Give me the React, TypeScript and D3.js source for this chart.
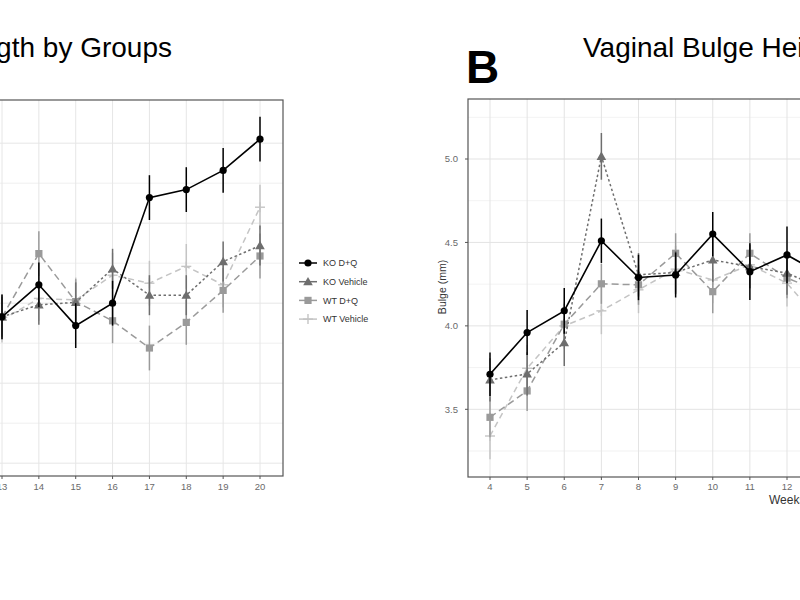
import React from "react";
import * as d3 from "d3";

// ---------- Panel A (length by groups) ----------
const weeksA = [13, 14, 15, 16, 17, 18, 19, 20];
const koDQ_A = [2.83, 3.23, 2.72, 3.0, 4.32, 4.42, 4.66, 5.05];
const koDQ_A_se = [0.28, 0.28, 0.28, 0.28, 0.28, 0.28, 0.28, 0.28];
const koVeh_A = [2.83, 2.98, 3.01, 3.43, 3.1, 3.1, 3.52, 3.72];
const koVeh_A_se = [0.25, 0.25, 0.25, 0.25, 0.25, 0.25, 0.25, 0.25];
const wtDQ_A = [2.83, 3.62, 3.02, 2.78, 2.44, 2.76, 3.16, 3.59];
const wtDQ_A_se = [0.28, 0.28, 0.28, 0.28, 0.28, 0.28, 0.28, 0.28];
const wtVeh_A = [2.79, 3.06, 3.04, 3.35, 3.25, 3.46, 3.23, 4.2];
const wtVeh_A_se = [0.28, 0.28, 0.28, 0.28, 0.28, 0.28, 0.28, 0.28];
const gridA = [1.0, 1.5, 2.0, 2.5, 3.0, 3.5, 4.0, 4.5, 5.0];

// ---------- Panel B (height by groups) ----------
const weeksB = [4, 5, 6, 7, 8, 9, 10, 11, 12, 13];
const koDQ_B = [3.71, 3.96, 4.09, 4.51, 4.29, 4.305, 4.55, 4.325, 4.425, 4.3];
const koDQ_B_se = [0.13, 0.135, 0.137, 0.133, 0.136, 0.135, 0.133, 0.17, 0.17, 0.15];
const koVeh_B = [3.676, 3.712, 3.9, 5.016, 4.306, 4.32, 4.395, 4.355, 4.316, 4.22];
const koVeh_B_se = [0.13, 0.13, 0.14, 0.14, 0.13, 0.13, 0.13, 0.13, 0.13, 0.13];
const wtDQ_B = [3.452, 3.61, 4.01, 4.252, 4.246, 4.435, 4.205, 4.435, 4.286, 4.2];
const wtDQ_B_se = [0.12, 0.12, 0.12, 0.12, 0.12, 0.12, 0.13, 0.12, 0.12, 0.12];
const wtVeh_B = [3.34, 3.746, 4.0, 4.09, 4.216, 4.34, 4.275, 4.366, 4.256, 4.0];
const wtVeh_B_se = [0.14, 0.14, 0.14, 0.14, 0.14, 0.14, 0.14, 0.14, 0.14, 0.14];
const ticksB = [3.5, 4.0, 4.5, 5.0];
const minorB = [3.25, 3.75, 4.25, 4.75, 5.25];

const seriesNames = ["KO D+Q", "KO Vehicle", "WT D+Q", "WT Vehicle"];
const seriesColors = ["#000000", "#6e6e6e", "#9a9a9a", "#c4c4c4"];
const seriesDash = ["none", "2.5,2.5", "7,4", "6,4"];
const seriesShape = ["circle", "triangle", "square", "plus"];

const FONT = "'Liberation Sans', Arial, Helvetica, sans-serif";

type Ser = { vals: number[]; se: number[] };

function Marker({ shape, x, y, color }: { shape: string; x: number; y: number; color: string }) {
  if (shape === "circle") return <circle cx={x} cy={y} r={3.6} fill={color} />;
  if (shape === "triangle") {
    const s = 4.8;
    return <path d={`M${x},${y - s}L${x + s},${y + s * 0.75}L${x - s},${y + s * 0.75}Z`} fill={color} />;
  }
  if (shape === "square") return <rect x={x - 3.6} y={y - 3.6} width={7.2} height={7.2} fill={color} />;
  return (
    <g stroke={color} strokeWidth={1.4}>
      <line x1={x - 5} x2={x + 5} y1={y} y2={y} />
      <line x1={x} x2={x} y1={y - 5} y2={y + 5} />
    </g>
  );
}

function SeriesLayer({
  weeks, data, x, y, order,
}: { weeks: number[]; data: Ser[]; x: d3.ScaleLinear<number, number>; y: d3.ScaleLinear<number, number>; order: number[] }) {
  return (
    <g>
      {order.map((i) => {
        const s = data[i];
        const line = d3.line<number>().x((_, k) => x(weeks[k])).y((v) => y(v));
        return (
          <g key={i}>
            {s.vals.map((v, k) => (
              <line key={"e" + k} x1={x(weeks[k])} x2={x(weeks[k])} y1={y(v - s.se[k])} y2={y(v + s.se[k])}
                stroke={seriesColors[i]} strokeWidth={1.5} />
            ))}
            <path d={line(s.vals) || ""} fill="none" stroke={seriesColors[i]} strokeWidth={i === 0 ? 1.6 : 1.5}
              strokeDasharray={seriesDash[i]} />
            {s.vals.map((v, k) => (
              <Marker key={"m" + k} shape={seriesShape[i]} x={x(weeks[k])} y={y(v)} color={seriesColors[i]} />
            ))}
          </g>
        );
      })}
    </g>
  );
}

export default function App() {
  // Panel A geometry
  const aLeft = -60, aRight = 283, aTop = 100, aBottom = 476;
  const xA = d3.scaleLinear().domain([13, 20]).range([2, 260]);
  const yA = d3.scaleLinear().domain([0.84, 5.54]).range([aBottom, aTop]);
  const dataA: Ser[] = [
    { vals: koDQ_A, se: koDQ_A_se },
    { vals: koVeh_A, se: koVeh_A_se },
    { vals: wtDQ_A, se: wtDQ_A_se },
    { vals: wtVeh_A, se: wtVeh_A_se },
  ];

  // Panel B geometry
  const bLeft = 468, bRight = 1100, bTop = 99, bBottom = 477;
  const xB = d3.scaleLinear().domain([4, 12]).range([490, 787]);
  const yB = d3.scaleLinear().domain([3.5, 5.0]).range([409.3, 159]);
  const dataB: Ser[] = [
    { vals: koDQ_B, se: koDQ_B_se },
    { vals: koVeh_B, se: koVeh_B_se },
    { vals: wtDQ_B, se: wtDQ_B_se },
    { vals: wtVeh_B, se: wtVeh_B_se },
  ];
  const order = [3, 2, 1, 0];
  const weeksBTicks = weeksB.filter((w) => w <= 13);

  return (
    <div style={{ position: "absolute", left: 0, top: 0, width: 800, height: 600, background: "#fff" }}>
      <svg width={800} height={600} style={{ display: "block" }} fontFamily={FONT}>
        <rect x={0} y={0} width={800} height={600} fill="#ffffff" />

        {/* ---------- Panel A ---------- */}
        <text x={172} y={57} fontSize={28} textAnchor="end" fill="#000">Vaginal Bulge Length by Groups</text>
        <g>
          {gridA.map((g) => (
            <line key={g} x1={aLeft} x2={aRight} y1={yA(g)} y2={yA(g)} stroke="#e6e6e6" strokeWidth={g % 1 === 0 ? 1 : 0.6} />
          ))}
          {weeksA.map((w) => (
            <line key={w} x1={xA(w)} x2={xA(w)} y1={aTop} y2={aBottom} stroke="#e6e6e6" strokeWidth={1} />
          ))}
          <SeriesLayer weeks={weeksA} data={dataA} x={xA} y={yA} order={order} />
          <rect x={aLeft} y={aTop} width={aRight - aLeft} height={aBottom - aTop} fill="none" stroke="#555" strokeWidth={1.2} />
          {weeksA.map((w) => (
            <g key={w}>
              <line x1={xA(w)} x2={xA(w)} y1={aBottom} y2={aBottom + 3} stroke="#555" />
              <text x={xA(w)} y={490} fontSize={9.5} textAnchor="middle" fill="#6a6a6a">{w}</text>
            </g>
          ))}
        </g>

        {/* Legend */}
        <g>
          {seriesNames.map((n, i) => {
            const cy = 263 + i * 18.7;
            return (
              <g key={n}>
                <line x1={299} x2={317} y1={cy} y2={cy} stroke={seriesColors[i]} strokeWidth={1.5} />
                <Marker shape={seriesShape[i]} x={308} y={cy} color={seriesColors[i]} />
                <text x={323} y={cy + 3.2} fontSize={9} fill="#333">{n}</text>
              </g>
            );
          })}
        </g>

        {/* ---------- Panel B ---------- */}
        <text x={466} y={83} fontSize={46} fontWeight="bold" fill="#000">B</text>
        <text x={583} y={57} fontSize={28} fill="#000">Vaginal Bulge Height by Groups</text>
        <g>
          {minorB.map((g) => (
            <line key={g} x1={bLeft} x2={bRight} y1={yB(g)} y2={yB(g)} stroke="#ececec" strokeWidth={0.7} />
          ))}
          {ticksB.map((g) => (
            <line key={g} x1={bLeft} x2={bRight} y1={yB(g)} y2={yB(g)} stroke="#e3e3e3" strokeWidth={1} />
          ))}
          {weeksBTicks.map((w) => (
            <line key={w} x1={xB(w)} x2={xB(w)} y1={bTop} y2={bBottom} stroke="#e3e3e3" strokeWidth={1} />
          ))}
          <SeriesLayer weeks={weeksB} data={dataB} x={xB} y={yB} order={order} />
          <rect x={bLeft} y={bTop} width={bRight - bLeft} height={bBottom - bTop} fill="none" stroke="#555" strokeWidth={1.2} />
          {weeksBTicks.map((w) => (
            <g key={w}>
              <line x1={xB(w)} x2={xB(w)} y1={bBottom} y2={bBottom + 3} stroke="#555" />
              <text x={xB(w)} y={490} fontSize={9.5} textAnchor="middle" fill="#6a6a6a">{w}</text>
            </g>
          ))}
          {ticksB.map((t) => (
            <g key={t}>
              <line x1={bLeft - 3} x2={bLeft} y1={yB(t)} y2={yB(t)} stroke="#555" />
              <text x={458} y={yB(t) + 3.3} fontSize={9.5} textAnchor="end" fill="#6a6a6a">{t.toFixed(1)}</text>
            </g>
          ))}
          <text transform={`translate(446,287) rotate(-90)`} fontSize={10.5} textAnchor="middle" fill="#333">Bulge (mm)</text>
          <text x={769} y={504} fontSize={12} fill="#333">Weeks</text>
        </g>
      </svg>
    </div>
  );
}
